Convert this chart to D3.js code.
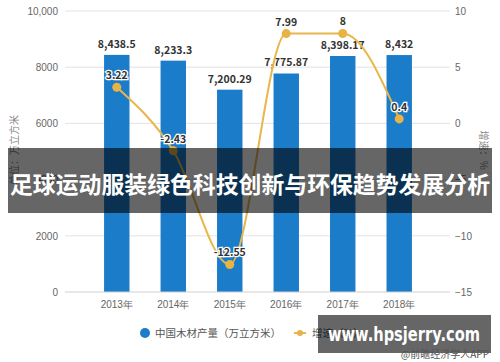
<!DOCTYPE html>
<html>
<head>
<meta charset="utf-8">
<script src="https://cdn.jsdelivr.net/npm/d3@7"></script>
<style>
body { margin: 0; background: #fff; }
svg { font-family: "Noto Sans CJK SC", "Noto Sans", sans-serif; }
</style>
</head>
<body>
<svg class="chart" width="500" height="362"></svg>
<script>
var years = ["2013年", "2014年", "2015年", "2016年", "2017年", "2018年"];
var output = [8438.5, 8233.3, 7200.29, 7775.87, 8398.17, 8432];
var outputLabels = ["8,438.5", "8,233.3", "7,200.29", "7,775.87", "8,398.17", "8,432"];
var growth = [3.22, -2.43, -12.55, 7.99, 8, 0.4];
var leftTicks = [0, 2000, 4000, 6000, 8000, 10000];
var leftTickLabels = ["0", "2000", "4000", "6000", "8000", "10,000"];
var rightTicks = [-15, -10, -5, 0, 5, 10];

var svg = d3.select(".chart");
var top_y = 11, bottom_y = 292, left_x = 65, right_x = 450;

var x = d3.scaleBand().domain(years).range([73, 443]).padding(0.55);
var yL = d3.scaleLinear().domain([0, 10000]).range([bottom_y, top_y]);
var yR = d3.scaleLinear().domain([-15, 10]).range([bottom_y, top_y]);

// grid lines
svg.append("g").selectAll("line")
  .data(leftTicks.slice(1))
  .enter().append("line")
  .attr("x1", left_x).attr("x2", right_x)
  .attr("y1", d => yL(d)).attr("y2", d => yL(d))
  .attr("stroke", "#e3e3e3").attr("stroke-width", 1);

// left axis labels
var yAxisL = d3.axisLeft(yL).tickValues(leftTicks).tickSize(0)
  .tickFormat((d, i) => leftTickLabels[i]);
var gL = svg.append("g").attr("transform", "translate(" + (left_x - 7) + ",0)").call(yAxisL);
gL.select(".domain").remove();
gL.selectAll("text").attr("fill", "#666").style("font-size", "10px").attr("x", 0);

// right axis labels
var yAxisR = d3.axisRight(yR).tickValues(rightTicks).tickSize(0);
var gR = svg.append("g").attr("transform", "translate(" + (right_x + 5) + ",0)").call(yAxisR);
gR.select(".domain").remove();
gR.selectAll("text").attr("fill", "#666").style("font-size", "10px").attr("x", 0);

// bars
svg.append("g").selectAll("rect")
  .data(output)
  .enter().append("rect")
  .attr("x", (d, i) => x(years[i]))
  .attr("width", x.bandwidth())
  .attr("y", d => yL(d))
  .attr("height", d => bottom_y - yL(d))
  .attr("fill", "#1b7cca");

// x axis
var xAxis = d3.axisBottom(x).tickSize(0);
var gX = svg.append("g").attr("transform", "translate(0," + bottom_y + ")").call(xAxis);
gX.select(".domain").remove();
gX.append("line").attr("x1", left_x).attr("x2", right_x)
  .attr("stroke", "#cfcfcf").attr("stroke-width", 1);
gX.selectAll("text").attr("fill", "#666").style("font-size", "10px").attr("y", 9);

// bar labels
svg.append("g").selectAll("text")
  .data(output)
  .enter().append("text")
  .attr("x", (d, i) => x(years[i]) + x.bandwidth() / 2)
  .attr("y", d => yL(d) - 7)
  .attr("text-anchor", "middle")
  .attr("fill", "#333")
  .style("font-size", "10.5px")
  .style("font-weight", "bold")
  .text((d, i) => outputLabels[i]);

// growth line
var line = d3.line()
  .x((d, i) => x(years[i]) + x.bandwidth() / 2)
  .y(d => yR(d))
  .curve(d3.curveMonotoneX);

svg.append("path")
  .attr("d", line(growth))
  .attr("fill", "none")
  .attr("stroke", "#e8b64a")
  .attr("stroke-width", 2);

svg.append("g").selectAll("circle")
  .data(growth)
  .enter().append("circle")
  .attr("cx", (d, i) => x(years[i]) + x.bandwidth() / 2)
  .attr("cy", d => yR(d))
  .attr("r", 4.5)
  .attr("fill", "#e8b244");

svg.append("g").selectAll("text")
  .data(growth)
  .enter().append("text")
  .attr("x", (d, i) => x(years[i]) + x.bandwidth() / 2)
  .attr("y", d => yR(d) - 8)
  .attr("text-anchor", "middle")
  .attr("fill", "#333")
  .attr("stroke", "#fff")
  .attr("stroke-width", 2.5)
  .style("paint-order", "stroke")
  .style("font-size", "10.5px")
  .style("font-weight", "bold")
  .text(d => d);

// axis titles
svg.append("text")
  .attr("transform", "translate(18,150) rotate(-90)")
  .attr("text-anchor", "middle")
  .attr("fill", "#888")
  .style("font-size", "10px")
  .text("单位：万立方米");

svg.append("text")
  .attr("transform", "translate(480,150) rotate(90)")
  .attr("text-anchor", "middle")
  .attr("fill", "#888")
  .style("font-size", "10px")
  .text("增速：%");

// legend
var lg = svg.append("g").attr("transform", "translate(0,333)");
lg.append("circle").attr("cx", 145).attr("cy", 0).attr("r", 5).attr("fill", "#1b7cca");
lg.append("text").attr("x", 155).attr("y", 4).attr("fill", "#555")
  .style("font-size", "10.5px").text("中国木材产量（万立方米）");
lg.append("line").attr("x1", 294).attr("x2", 306).attr("y1", 0).attr("y2", 0)
  .attr("stroke", "#e8b64a").attr("stroke-width", 2);
lg.append("circle").attr("cx", 300).attr("cy", 0).attr("r", 3).attr("fill", "#e8b244");
lg.append("text").attr("x", 312).attr("y", 4).attr("fill", "#555")
  .style("font-size", "10.5px").text("增速（%）");

// title band overlay
svg.append("rect")
  .attr("x", 8).attr("y", 148).attr("width", 484).attr("height", 65)
  .attr("fill", "rgba(0,0,0,0.6)");
svg.append("text")
  .attr("x", 250).attr("y", 193)
  .attr("text-anchor", "middle")
  .attr("fill", "#fff")
  .attr("textLength", 480)
  .attr("lengthAdjust", "spacingAndGlyphs")
  .style("font-size", "23px")
  .style("font-weight", "bold")
  .text("足球运动服装绿色科技创新与环保趋势发展分析");

// watermark box
svg.append("rect")
  .attr("x", 318).attr("y", 315).attr("width", 173).attr("height", 38)
  .attr("fill", "rgba(0,0,0,0.6)");
svg.append("text")
  .attr("x", 404).attr("y", 341)
  .attr("text-anchor", "middle")
  .attr("fill", "#fff")
  .attr("textLength", 152)
  .attr("lengthAdjust", "spacingAndGlyphs")
  .style("font-family", "'DejaVu Sans', sans-serif")
  .style("font-size", "20px")
  .style("font-weight", "bold")
  .text("www.hpsjerry.com");
svg.append("text")
  .attr("x", 489).attr("y", 358)
  .attr("text-anchor", "end")
  .attr("fill", "#555")
  .style("font-size", "10px")
  .text("@前瞻经济学人APP");
</script>
</body>
</html>
